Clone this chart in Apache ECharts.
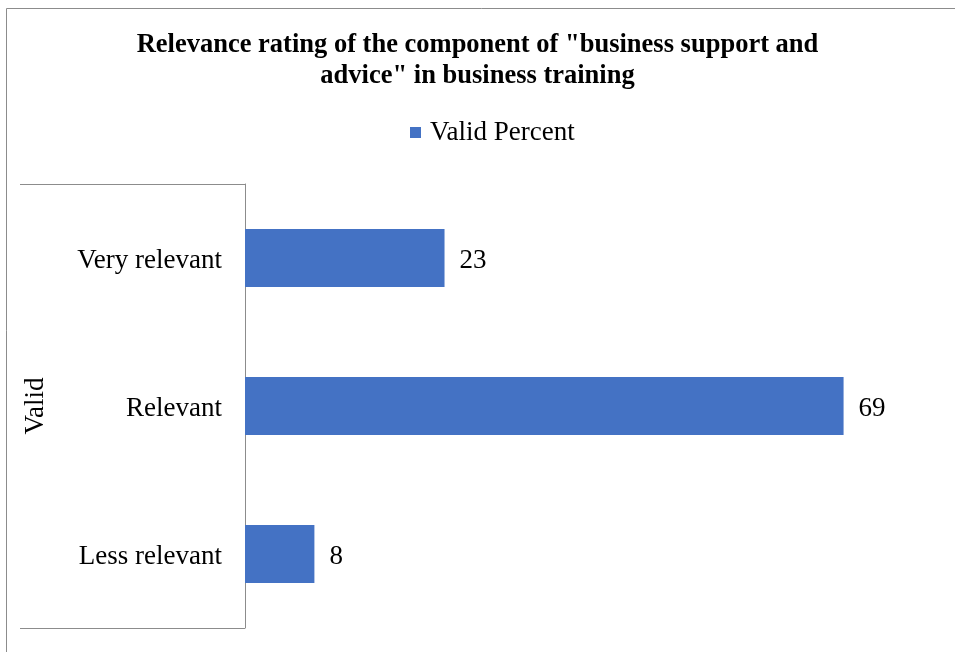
<!DOCTYPE html>
<html>
<head>
<meta charset="utf-8">
<script src="https://cdn.jsdelivr.net/npm/echarts@6/dist/echarts.min.js"></script>
<style>
  html, body { margin: 0; padding: 0; background: #fff; }
  #chart { width: 955px; height: 652px; }
</style>
</head>
<body>
<div id="chart"></div>
<script>
// Relevance ratings (valid percent), listed bottom to top
const categories = ['Less relevant', 'Relevant', 'Very relevant'];
const validPercent = [8, 69, 23];
const groupLabel = 'Valid';
const seriesName = 'Valid Percent';

const serif = '"Liberation Serif", "Times New Roman", serif';
const frameGray = '#8c8c8c';

// text style that sits the glyphs slightly lower in their slot
const lowered = {
  t: { fontFamily: serif, fontSize: 27, color: '#000', padding: [6, 0, 0, 0] }
};

const chart = echarts.init(document.getElementById('chart'));
chart.setOption({
  animation: false,
  backgroundColor: '#fff',
  title: {
    text: 'Relevance rating of the component of "business support and\nadvice" in business training',
    left: 'center',
    top: 25,
    textStyle: {
      fontFamily: serif,
      fontWeight: 'bold',
      fontSize: 26.5,
      lineHeight: 31,
      color: '#000'
    }
  },
  legend: {
    data: [seriesName],
    top: 114,
    left: 405,
    icon: 'rect',
    itemWidth: 11,
    itemHeight: 11,
    itemGap: 6,
    textStyle: { fontFamily: serif, fontSize: 27, color: '#000', padding: [0, 0, 0, 4] }
  },
  grid: {
    left: 245,
    top: 184,
    width: 694,
    height: 444,
    containLabel: false
  },
  xAxis: {
    type: 'value',
    min: 0,
    max: 80,
    show: false
  },
  yAxis: [
    {
      type: 'category',
      data: categories,
      axisLine: { show: true, lineStyle: { color: frameGray, width: 1 } },
      axisTick: { show: false },
      axisLabel: {
        fontFamily: serif, fontSize: 27, color: '#000', margin: 23,
        formatter: '{t|{value}}',
        rich: lowered
      }
    },
    {
      // outer group level: ticks at the top and bottom edges form the bracket
      type: 'category',
      data: [groupLabel],
      position: 'left',
      offset: 0,
      axisLine: { show: false },
      axisTick: { show: true, length: 225, lineStyle: { color: frameGray, width: 1 } },
      axisLabel: { show: false },
      name: groupLabel,
      nameLocation: 'middle',
      nameRotate: 90,
      nameGap: 196,
      nameTextStyle: { fontFamily: serif, fontSize: 27, color: '#000' }
    }
  ],
  series: [
    {
      name: seriesName,
      type: 'bar',
      yAxisIndex: 0,
      data: validPercent,
      barWidth: 58,
      itemStyle: { color: '#4472C4' },
      label: {
        show: true,
        position: 'right',
        distance: 15,
        formatter: '{t|{c}}',
        rich: lowered,
        fontFamily: serif,
        fontSize: 27,
        color: '#000'
      }
    }
  ],
  graphic: [
    {
      type: 'rect',
      silent: true,
      shape: { x: 6.5, y: 8.5, width: 1000, height: 1000 },
      style: { fill: null, stroke: frameGray, lineWidth: 1 }
    }
  ]
});
</script>
</body>
</html>
